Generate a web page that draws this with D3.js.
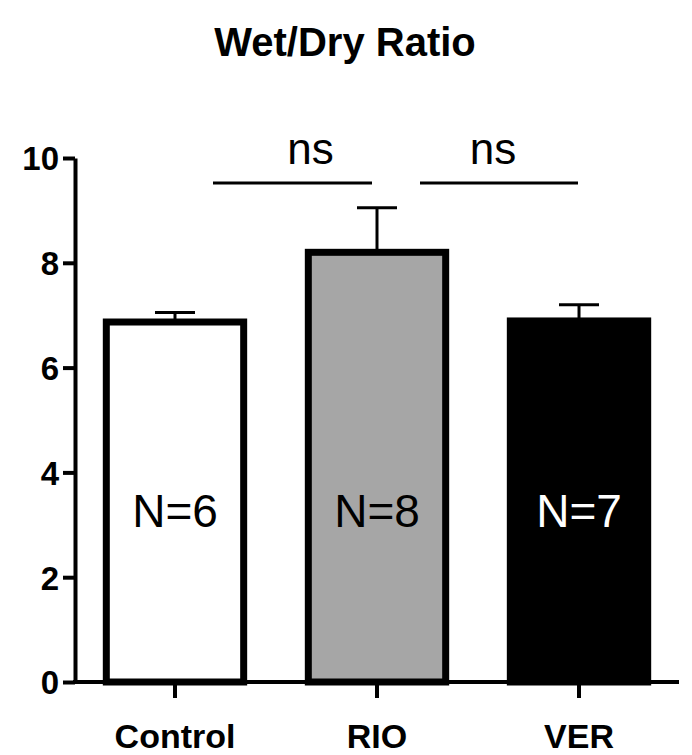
<!DOCTYPE html>
<html><head><meta charset="utf-8">
<script src="https://cdn.jsdelivr.net/npm/d3@7"></script>
<style>body{margin:0;background:#fff}text{font-family:"Liberation Sans",Arial,sans-serif}</style>
</head><body>
<svg id="c" width="692" height="755"></svg>
<script>
var categories = ["Control", "RIO", "VER"];
var means = [6.87, 8.2, 6.89];
var errors = [0.18, 0.85, 0.31];
var nLabels = ["N=6", "N=8", "N=7"];
var fills = ["#ffffff", "#a6a6a6", "#000000"];
var yTicks = [0, 2, 4, 6, 8, 10];

var svg = d3.select("#c");
var y = d3.scaleLinear().domain([0, 10]).range([682, 158]);
var x = d3.scaleBand().domain(categories).range([75, 679]).paddingInner(0.32).paddingOuter(0.155);

// title
svg.append("text").attr("x", 345).attr("y", 56).attr("text-anchor", "middle")
  .style("font-size", "40px").style("font-weight", "bold").text("Wet/Dry Ratio");

// error bars (drawn first so bar covers lower half)
categories.forEach(function(c, i) {
  var cx = x(c) + x.bandwidth() / 2;
  svg.append("line").attr("x1", cx).attr("x2", cx).attr("y1", y(means[i])).attr("y2", y(means[i] + errors[i]))
    .attr("stroke", "#000").attr("stroke-width", 3);
  svg.append("line").attr("x1", cx - 20).attr("x2", cx + 20).attr("y1", y(means[i] + errors[i])).attr("y2", y(means[i] + errors[i]))
    .attr("stroke", "#000").attr("stroke-width", 3);
});

// bars
svg.selectAll("rect.bar").data(categories).enter().append("rect")
  .attr("x", function(d) { return x(d); })
  .attr("y", function(d, i) { return y(means[i]); })
  .attr("width", x.bandwidth())
  .attr("height", function(d, i) { return y(0) - y(means[i]); })
  .attr("fill", function(d, i) { return fills[i]; })
  .attr("stroke", "#000").attr("stroke-width", 7);

// N labels
svg.selectAll("text.n").data(categories).enter().append("text")
  .attr("x", function(d) { return x(d) + x.bandwidth() / 2; })
  .attr("y", 527).attr("text-anchor", "middle")
  .style("font-size", "46px")
  .attr("fill", function(d, i) { return i === 2 ? "#fff" : "#000"; })
  .text(function(d, i) { return nLabels[i]; });

// y axis
var yAxis = svg.append("g").attr("transform", "translate(75,0)")
  .call(d3.axisLeft(y).tickValues(yTicks).tickSize(12).tickSizeOuter(0));
yAxis.select(".domain").attr("stroke-width", 4);
yAxis.selectAll(".tick line").attr("stroke-width", 4);
yAxis.selectAll(".tick text").attr("font-size", null).attr("font-family", null)
  .style("font-size", "33px").style("font-weight", "bold")
  .attr("dx", "-1").attr("dy", "0.36em");

// x axis
var xAxis = svg.append("g").attr("transform", "translate(0,682)")
  .call(d3.axisBottom(x).tickSize(16).tickSizeOuter(0));
xAxis.select(".domain").attr("d", "M73,0H679").attr("stroke-width", 4);
xAxis.selectAll(".tick line").attr("stroke-width", 4);
xAxis.selectAll(".tick text").attr("font-size", null).attr("font-family", null)
  .style("font-size", "34px").style("font-weight", "bold").attr("y", 42);

// significance
var sig = [[0, 1], [1, 2]];
sig.forEach(function(p, k) {
  var x1 = k === 0 ? 213 : 420, x2 = k === 0 ? 372 : 578;
  svg.append("line").attr("x1", x1).attr("x2", x2).attr("y1", 183).attr("y2", 183)
    .attr("stroke", "#000").attr("stroke-width", 3);
  svg.append("text").attr("x", (x1 + x2) / 2 + (k === 0 ? 18 : -6)).attr("y", 164).attr("text-anchor", "middle")
    .style("font-size", "44px").text("ns");
});
</script>
</body></html>
